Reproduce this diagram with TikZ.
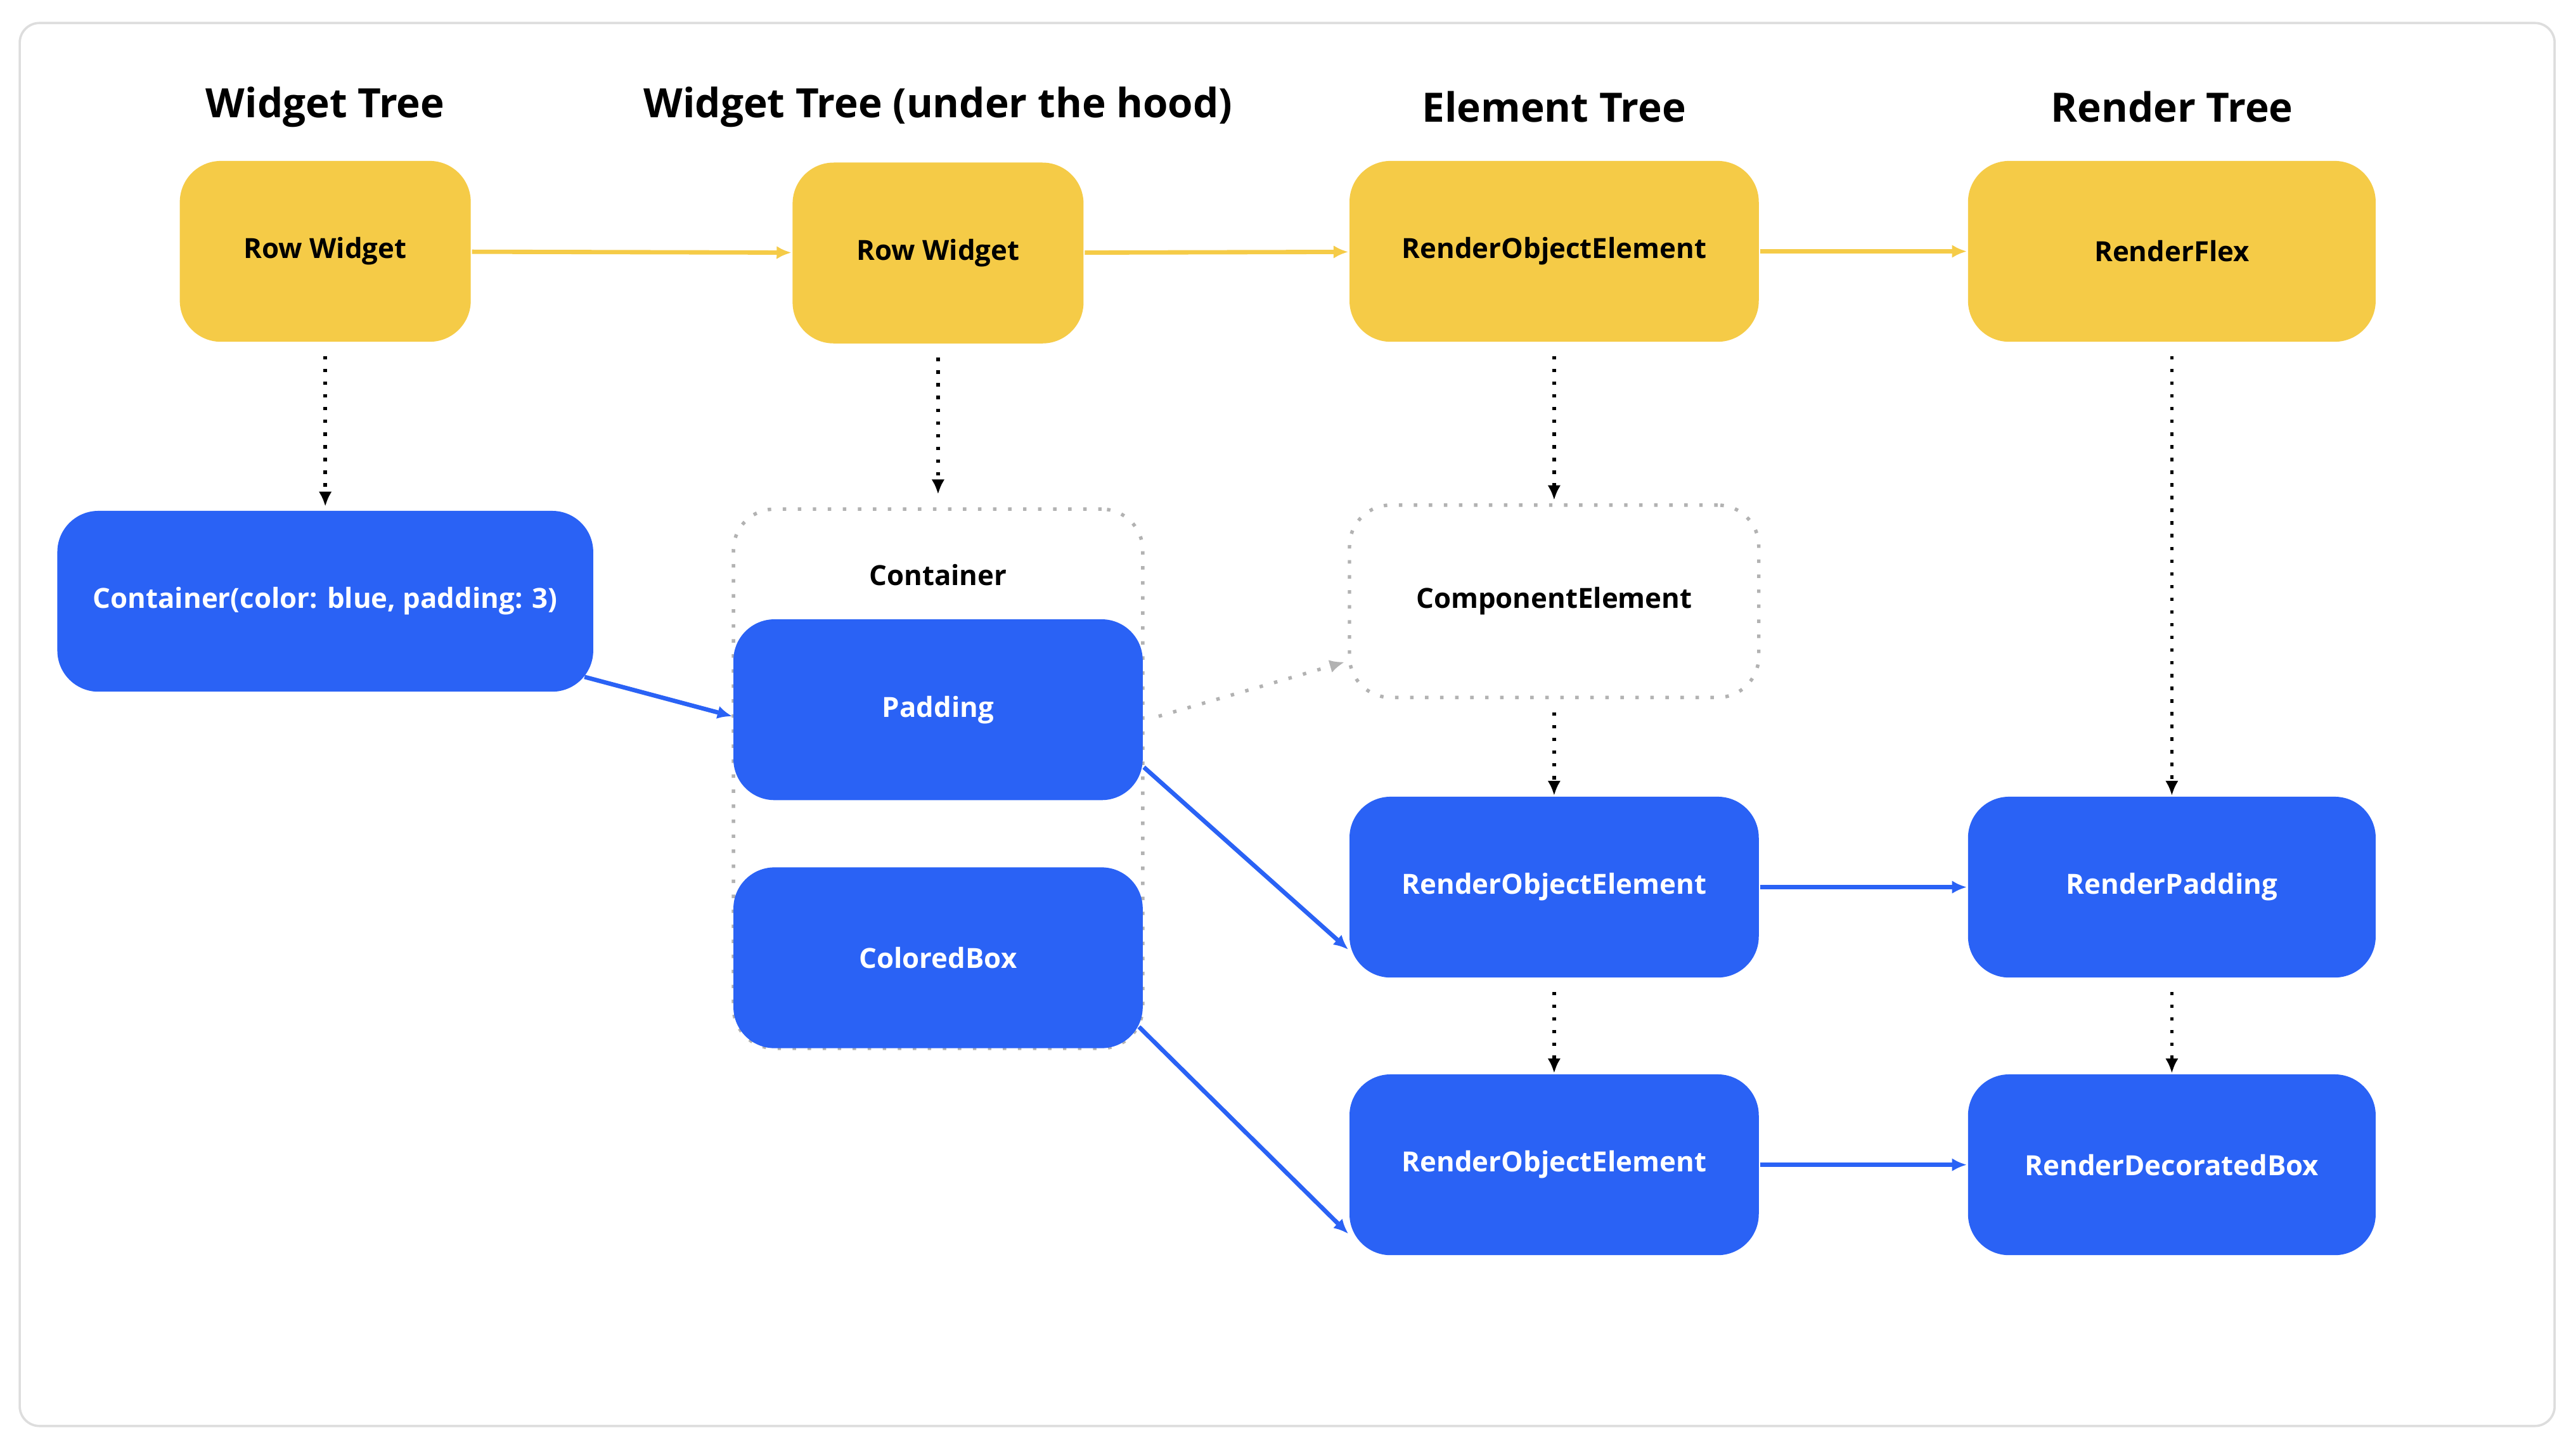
\documentclass[tikz,border=0pt]{standalone}
\usepackage{fontspec}
\setmainfont{Open Sans}
\usetikzlibrary{arrows.meta, positioning}
\definecolor{FlutterYellow}{HTML}{F5CB47}
\definecolor{FlutterBlue}{HTML}{2A62F5}
\definecolor{CardLine}{HTML}{DDDDDD}

\begin{document}
\begin{tikzpicture}[
          x=0.01cm, y=-0.01cm,
          title/.style={font=\fontsize{7}{8}\selectfont\bfseries},
          box/.style={rectangle, rounded corners=0.25cm, minimum height=1.1cm, font=\fontsize{4.8}{6}\selectfont\bfseries, inner sep=0pt},
          widget/.style={box, fill=FlutterYellow, text=black},
          render/.style={box, fill=FlutterBlue, text=white},
          ghost/.style={box, draw=black!30, line width=0.6pt, dash pattern=on 0.6pt off 2pt, text=black},
          yline/.style={FlutterYellow, line width=0.75pt, -{Latex[length=0.09cm, width=0.08cm]}},
          bline/.style={FlutterBlue, line width=0.75pt, -{Latex[length=0.09cm, width=0.08cm]}},
          dline/.style={black, line width=0.6pt, dash pattern=on 0.6pt off 1.6pt, -{Latex[length=0.09cm, width=0.08cm]}},
          gline/.style={black!30, line width=0.6pt, dash pattern=on 0.6pt off 2pt, -{Latex[length=0.09cm, width=0.08cm]}}
        ]
          \useasboundingbox (0,0) rectangle (1568,882);
          \draw[CardLine, line width=0.4pt, rounded corners=0.12cm, fill=white] (12,14) rectangle (1555,868);

          % titles
          \node[title] at (198,65) {Widget Tree};
          \node[title] at (571,65) {Widget Tree (under the hood)};
          \node[title] at (946,65) {Element Tree};
          \node[title] at (1322,65) {Render Tree};

          % top row
          \node (row1) [widget, minimum width=1.77cm] at (198,153) {Row Widget};
          \node (row2) [widget, minimum width=1.77cm] at (571,154) {Row Widget};
          \node (roe0) [widget, minimum width=2.49cm] at (946,153) {RenderObjectElement};
          \node (flex) [widget, minimum width=2.48cm] at (1322,153) {RenderFlex};

          % widget tree
          \node (cont) [render, minimum width=3.26cm] at (198,366) {Container(color: blue, padding: 3)};

          % under the hood
          \node (group) [ghost, minimum width=2.49cm, minimum height=3.28cm] at (571,474) {};
          \node (glabel) [font=\fontsize{4.8}{6}\selectfont\bfseries] at (571,350) {Container};
          \node (pad) [render, minimum width=2.49cm] at (571,432) {Padding};
          \node (cbox) [render, minimum width=2.49cm] at (571,583) {ColoredBox};

          % element tree
          \node (comp) [ghost, minimum width=2.49cm, minimum height=1.17cm] at (946,366) {ComponentElement};
          \node (roe1) [render, minimum width=2.49cm] at (946,540) {RenderObjectElement};
          \node (roe2) [render, minimum width=2.49cm] at (946,709) {RenderObjectElement};

          % render tree
          \node (rpad) [render, minimum width=2.48cm] at (1322,540) {RenderPadding};
          \node (rdec) [render, minimum width=2.48cm] at (1322,709) {RenderDecoratedBox};

          % connectors
          \draw[yline] (row1) -- (row2);
          \draw[yline] (row2) -- (roe0);
          \draw[yline] (roe0) -- (flex);

          \draw[dline] ([yshift=-0.08cm]row1.south) -- ([yshift=0.02cm]cont.north);
          \draw[dline] ([yshift=-0.08cm]row2.south) -- ([yshift=0.08cm]group.north);
          \draw[dline] ([yshift=-0.08cm]roe0.south) -- ([yshift=0.02cm]comp.north);
          \draw[dline] ([yshift=-0.08cm]flex.south) -- (rpad.north);
          \draw[dline] ([yshift=-0.08cm]comp.south) -- (roe1.north);
          \draw[dline] ([yshift=-0.08cm]roe1.south) -- (roe2.north);
          \draw[dline] ([yshift=-0.08cm]rpad.south) -- (rdec.north);

          \draw[bline] ([xshift=-0.06cm, yshift=-0.46cm]cont.east) -- ([yshift=-0.04cm]pad.west);
          \draw[bline] ([yshift=-0.35cm]pad.east) -- ([yshift=-0.38cm]roe1.west);
          \draw[bline] ([xshift=-0.03cm, yshift=-0.42cm]cbox.east) -- ([yshift=-0.42cm]roe2.west);
          \draw[gline] ([xshift=0.09cm, yshift=-0.04cm]pad.east) -- ([xshift=-0.02cm, yshift=-0.37cm]comp.west);
          \draw[bline] (roe1) -- (rpad);
          \draw[bline] (roe2) -- (rdec);
        \end{tikzpicture}
\end{document}
